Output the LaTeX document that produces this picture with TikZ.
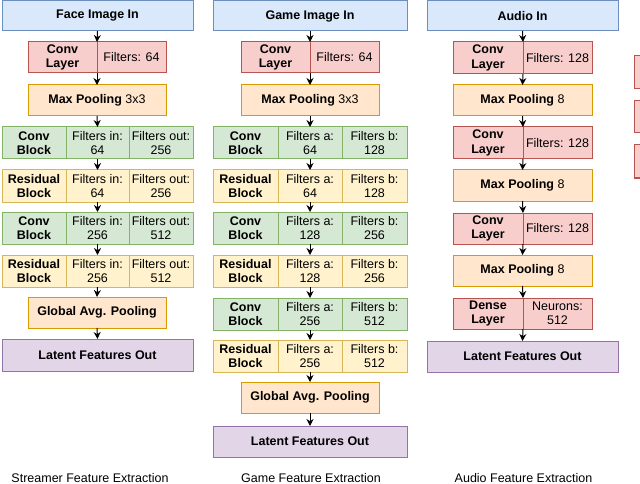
\documentclass[tikz,border=0pt]{standalone}
\usepackage{fontspec}
\setmainfont{Liberation Sans}
\usetikzlibrary{arrows.meta}
\definecolor{bluefill}{HTML}{DAE8FC}\definecolor{bluedraw}{HTML}{6C8EBF}
\definecolor{redfill}{HTML}{F8CECC}\definecolor{reddraw}{HTML}{B85450}
\definecolor{orangefill}{HTML}{FFE6CC}\definecolor{orangedraw}{HTML}{D79B00}
\definecolor{yellowfill}{HTML}{FFF2CC}\definecolor{yellowdraw}{HTML}{D6B656}
\definecolor{greenfill}{HTML}{D5E8D4}\definecolor{greendraw}{HTML}{82B366}
\definecolor{purplefill}{HTML}{E1D5E7}\definecolor{purpledraw}{HTML}{9673A6}
\newcommand{\mkcell}[7]{\node[#2, minimum width={#5-#3}, minimum height={#6-#4}] (#1) at ({(#3+#5)/2},{(#4+#6)/2}) {#7};}
\tikzset{
  cellbase/.style={draw, line width=1pt, inner sep=0pt, outer sep=0pt, align=center,
    font=\fontsize{12.5}{14.5}\selectfont},
  bluebox/.style={cellbase, fill=bluefill, draw=bluedraw},
  redbox/.style={cellbase, fill=redfill, draw=reddraw},
  orangebox/.style={cellbase, fill=orangefill, draw=orangedraw},
  yellowbox/.style={cellbase, fill=yellowfill, draw=yellowdraw},
  greenbox/.style={cellbase, fill=greenfill, draw=greendraw},
  purplebox/.style={cellbase, fill=purplefill, draw=purpledraw},
  arr/.style={draw=black, line width=1pt, -{Stealth[length=7pt,width=7pt]}},
  caption/.style={inner sep=0pt, font=\fontsize{12.5}{14.5}\selectfont}
}
\begin{document}
\begin{tikzpicture}[x=1pt,y=-1pt]
\useasboundingbox (0,0) rectangle (640,484);
% ---------------- Column 1: Streamer ----------------
\mkcell{face}{bluebox}{2}{1}{193}{31}{\textbf{Face Image In}}
\mkcell{aconvL}{redbox}{28}{42}{97}{73}{\textbf{Conv}\\\textbf{Layer}}
\mkcell{aconvR}{redbox}{97}{42}{166}{73}{Filters: 64}
\mkcell{apool}{orangebox}{28}{85}{166}{116}{\textbf{Max Pooling} 3x3}
\mkcell{acbAa}{greenbox}{2}{127}{66}{159}{\textbf{Conv}\\\textbf{Block}}
\mkcell{acbAb}{greenbox}{66}{127}{129}{159}{Filters in:\\64}
\mkcell{acbAc}{greenbox}{129}{127}{193}{159}{Filters out:\\256}
\mkcell{arbAa}{yellowbox}{2}{170}{66}{202}{\textbf{Residual}\\\textbf{Block}}
\mkcell{arbAb}{yellowbox}{66}{170}{129}{202}{Filters in:\\64}
\mkcell{arbAc}{yellowbox}{129}{170}{193}{202}{Filters out:\\256}
\mkcell{acbBa}{greenbox}{2}{212}{66}{244}{\textbf{Conv}\\\textbf{Block}}
\mkcell{acbBb}{greenbox}{66}{212}{129}{244}{Filters in:\\256}
\mkcell{acbBc}{greenbox}{129}{212}{193}{244}{Filters out:\\512}
\mkcell{arbBa}{yellowbox}{2}{255}{66}{287}{\textbf{Residual}\\\textbf{Block}}
\mkcell{arbBb}{yellowbox}{66}{255}{129}{287}{Filters in:\\256}
\mkcell{arbBc}{yellowbox}{129}{255}{193}{287}{Filters out:\\512}
\mkcell{agap}{orangebox}{28}{297}{166}{328}{\textbf{Global Avg. Pooling}}
\mkcell{aout}{purplebox}{2}{339}{193}{371}{\textbf{Latent Features Out}}
\node[caption] (acap) at (90,478) {Streamer Feature Extraction};
\draw[arr] (face.south) -- (aconvL.north east);
\draw[arr] (aconvL.south east) -- (apool.north);
\draw[arr] (apool.south) -- (acbAb.north);
\draw[arr] (acbAb.south) -- (arbAb.north);
\draw[arr] (arbAb.south) -- (acbBb.north);
\draw[arr] (acbBb.south) -- (arbBb.north);
\draw[arr] (arbBb.south) -- (agap.north);
\draw[arr] (agap.south) -- (aout.north);
% ---------------- Column 2: Game ----------------
\mkcell{game}{bluebox}{213}{1}{407}{31}{\textbf{Game Image In}}
\mkcell{bconvL}{redbox}{241}{42}{310}{73}{\textbf{Conv}\\\textbf{Layer}}
\mkcell{bconvR}{redbox}{310}{42}{379}{73}{Filters: 64}
\mkcell{bpool}{orangebox}{241}{85}{379}{116}{\textbf{Max Pooling} 3x3}
\mkcell{bcbAa}{greenbox}{213}{127}{278}{159}{\textbf{Conv}\\\textbf{Block}}
\mkcell{bcbAb}{greenbox}{278}{127}{342}{159}{Filters a:\\64}
\mkcell{bcbAc}{greenbox}{342}{127}{407}{159}{Filters b:\\128}
\mkcell{brbAa}{yellowbox}{213}{170}{278}{202}{\textbf{Residual}\\\textbf{Block}}
\mkcell{brbAb}{yellowbox}{278}{170}{342}{202}{Filters a:\\64}
\mkcell{brbAc}{yellowbox}{342}{170}{407}{202}{Filters b:\\128}
\mkcell{bcbBa}{greenbox}{213}{212}{278}{244}{\textbf{Conv}\\\textbf{Block}}
\mkcell{bcbBb}{greenbox}{278}{212}{342}{244}{Filters a:\\128}
\mkcell{bcbBc}{greenbox}{342}{212}{407}{244}{Filters b:\\256}
\mkcell{brbBa}{yellowbox}{213}{255}{278}{287}{\textbf{Residual}\\\textbf{Block}}
\mkcell{brbBb}{yellowbox}{278}{255}{342}{287}{Filters a:\\128}
\mkcell{brbBc}{yellowbox}{342}{255}{407}{287}{Filters b:\\256}
\mkcell{bcbCa}{greenbox}{213}{298}{278}{330}{\textbf{Conv}\\\textbf{Block}}
\mkcell{bcbCb}{greenbox}{278}{298}{342}{330}{Filters a:\\256}
\mkcell{bcbCc}{greenbox}{342}{298}{407}{330}{Filters b:\\512}
\mkcell{brbCa}{yellowbox}{213}{340}{278}{372}{\textbf{Residual}\\\textbf{Block}}
\mkcell{brbCb}{yellowbox}{278}{340}{342}{372}{Filters a:\\256}
\mkcell{brbCc}{yellowbox}{342}{340}{407}{372}{Filters b:\\512}
\mkcell{bgap}{orangebox}{241}{382}{379}{413}{\textbf{Global Avg. Pooling}}
\mkcell{bout}{purplebox}{213}{426}{407}{457}{\textbf{Latent Features Out}}
\node[caption] (bcap) at (311,478) {Game Feature Extraction};
\draw[arr] (game.south) -- (bconvL.north east);
\draw[arr] (bconvL.south east) -- (bpool.north);
\draw[arr] (bpool.south) -- (bcbAb.north);
\draw[arr] (bcbAb.south) -- (brbAb.north);
\draw[arr] (brbAb.south) -- (bcbBb.north);
\draw[arr] (bcbBb.south) -- (brbBb.north);
\draw[arr] (brbBb.south) -- (bcbCb.north);
\draw[arr] (bcbCb.south) -- (brbCb.north);
\draw[arr] (brbCb.south) -- (bgap.north);
\draw[arr] (bgap.south) -- (bout.north);
% ---------------- Column 3: Audio ----------------
\mkcell{audio}{bluebox}{427}{1}{618}{31}{\textbf{Audio In}}
\mkcell{cconvAL}{redbox}{453}{42}{523}{74}{\textbf{Conv}\\\textbf{Layer}}
\mkcell{cconvAR}{redbox}{523}{42}{592}{74}{Filters: 128}
\mkcell{cpoolA}{orangebox}{453}{85}{592}{116}{\textbf{Max Pooling} 8}
\mkcell{cconvBL}{redbox}{453}{127}{523}{159}{\textbf{Conv}\\\textbf{Layer}}
\mkcell{cconvBR}{redbox}{523}{127}{592}{159}{Filters: 128}
\mkcell{cpoolB}{orangebox}{453}{170}{592}{201}{\textbf{Max Pooling} 8}
\mkcell{cconvCL}{redbox}{453}{213}{523}{244}{\textbf{Conv}\\\textbf{Layer}}
\mkcell{cconvCR}{redbox}{523}{213}{592}{244}{Filters: 128}
\mkcell{cpoolC}{orangebox}{453}{255}{592}{286}{\textbf{Max Pooling} 8}
\mkcell{cdenseL}{redbox}{453}{298}{523}{329}{\textbf{Dense}\\\textbf{Layer}}
\mkcell{cdenseR}{redbox}{523}{298}{592}{329}{Neurons:\\512}
\mkcell{cout}{purplebox}{427}{341}{618}{372}{\textbf{Latent Features Out}}
\node[caption] (ccap) at (523.5,478) {Audio Feature Extraction};
\draw[arr] (audio.south) -- (cconvAL.north east);
\draw[arr] (cconvAL.south east) -- (cpoolA.north);
\draw[arr] (cpoolA.south) -- (cconvBL.north east);
\draw[arr] (cconvBL.south east) -- (cpoolB.north);
\draw[arr] (cpoolB.south) -- (cconvCL.north east);
\draw[arr] (cconvCL.south east) -- (cpoolC.north);
\draw[arr] (cpoolC.south) -- (cdenseL.north east);
\draw[arr] (cdenseL.south east) -- (cout.north);
% ---------------- cut-off boxes at right edge ----------------
\mkcell{edgeA}{redbox}{634}{56}{670}{89}{}
\mkcell{edgeB}{redbox}{634}{101}{670}{133}{}
\mkcell{edgeC}{redbox}{634}{145}{670}{178}{}
\end{tikzpicture}
\end{document}
